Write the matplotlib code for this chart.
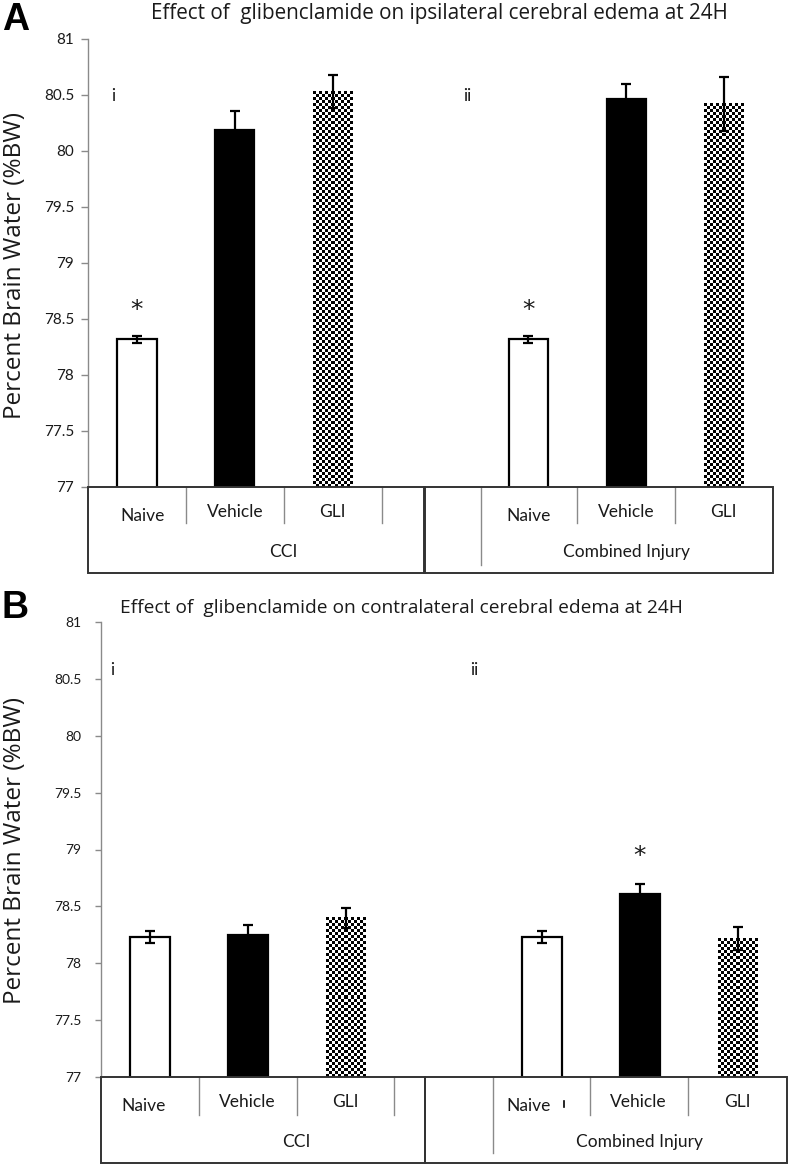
import numpy as np
import matplotlib.pyplot as plt
from matplotlib.patches import Rectangle

# ---- data (percent brain water, mean and error) ----
groups = ["CCI", "Combined Injury"]
treatments = ["Naive", "Vehicle", "GLI"]
y_ticks = [77, 77.5, 78, 78.5, 79, 79.5, 80, 80.5, 81]
y_tick_labels = ["77", "77.5", "78", "78.5", "79", "79.5", "80", "80.5", "81"]

ipsi_cci = [78.32, 80.19, 80.53]
ipsi_cci_err = [0.03, 0.17, 0.15]
ipsi_comb = [78.32, 80.46, 80.42]
ipsi_comb_err = [0.03, 0.14, 0.24]

contra_cci = [78.23, 78.25, 78.40]
contra_cci_err = [0.05, 0.09, 0.09]
contra_comb = [78.23, 78.61, 78.22]
contra_comb_err = [0.05, 0.09, 0.10]

# asterisks: (slot, y)
ipsi_stars = [(0, 78.58), (4, 78.58)]
contra_stars = [(5, 78.94)]

title_a = "Effect of  glibenclamide on ipsilateral cerebral edema at 24H"
title_b = "Effect of  glibenclamide on contralateral cerebral edema at 24H"

W, H = 792, 1167
TXT = "#1a1a1a"
GRAY = "#8a8a8a"
TICKFONT = "Lato"
TITLEFONT = "Open Sans"

fig = plt.figure(figsize=(W / 100, H / 100), dpi=100)


def px_axes(l, t, r, b):
    return fig.add_axes([l / W, 1 - b / H, (r - l) / W, (b - t) / H])


def checker(ax, bar, sq=3.0):
    """Fill a bar with a black/white checkerboard (Excel pattern fill)."""
    x0 = bar.get_x()
    x1 = x0 + bar.get_width()
    y1 = bar.get_y() + bar.get_height()
    y0 = ax.get_ylim()[0]
    p0 = ax.transData.transform((x0, y0))
    p1 = ax.transData.transform((x1, y1))
    nc = max(2, int(round(abs(p1[0] - p0[0]) / sq)))
    nr = max(2, int(round(abs(p1[1] - p0[1]) / sq)))
    board = (np.add.outer(np.arange(nr), np.arange(nc)) % 2).astype(float)
    ax.imshow(board, cmap="gray", extent=(x0, x1, y0, y1), aspect="auto",
              interpolation="nearest", zorder=2, origin="upper")


def panel(ax, cci, cci_err, comb, comb_err, stars, tab):
    ax.set_xlim(-0.5, 6.5)
    ax.set_ylim(77, 81)
    slots = [0, 1, 2, 4, 5, 6]
    vals = cci + comb
    errs = cci_err + comb_err
    face = ["white", "black", "white"] * 2
    bars = ax.bar(slots, vals, width=0.40, color=face, edgecolor="black",
                  linewidth=1.6, zorder=2)
    for i in (2, 5):
        bars[i].set_linewidth(0)
        checker(ax, bars[i])
    ax.set_xlim(-0.5, 6.5)
    ax.set_ylim(77, 81)
    ax.errorbar(slots, vals, yerr=errs, fmt="none", ecolor="black",
                elinewidth=1.6, capsize=3.5, capthick=1.6, zorder=3)
    for s, y in stars:
        ax.text(s, y, "*", ha="center", va="center", fontsize=18,
                color=TXT, family="DejaVu Sans")

    ax.set_yticks(y_ticks)
    ax.set_yticklabels(y_tick_labels, family=TICKFONT, fontsize=tab["tfs"],
                       color=TXT)
    ax.tick_params(axis="y", length=tab["tlen"], color=GRAY, width=1,
                   pad=tab["tpad"])
    ax.set_xticks([])
    for sp in ("top", "right", "bottom"):
        ax.spines[sp].set_visible(False)
    ax.spines["left"].set_color(GRAY)
    ax.spines["left"].set_linewidth(1)

    # roman numerals
    ax.text(tab["i_x"], tab["i_y"], "i", fontsize=12.5, family=TICKFONT,
            color=TXT, va="center")
    ax.text(tab["ii_x"], tab["i_y"], "ii", fontsize=12.5, family=TICKFONT,
            color=TXT, va="center")

    # table below the plot (Excel style)
    tr = ax.get_xaxis_transform()
    hpx = ax.bbox.height

    def yd(dy):
        return -dy / hpx

    row1, total, long_b = tab["row1"], tab["total"], tab["long"]
    for (xa, xb) in tab["boxes"]:
        ax.add_patch(Rectangle((xa, yd(total)), xb - xa, total / hpx,
                               transform=tr, fill=False, edgecolor="#333333",
                               linewidth=1.4, clip_on=False, zorder=4))
    for xd in tab["dividers"]:
        ax.plot([xd, xd], [0, yd(row1)], transform=tr, color=GRAY, lw=1,
                clip_on=False)
    ax.plot([tab["long_x"]] * 2, [0, yd(long_b)], transform=tr, color=GRAY,
            lw=1, clip_on=False)
    for k, name in enumerate(treatments):
        for g in range(2):
            x = tab["lab_x"][g][k]
            dy = 29 if name == "Naive" else 25
            ax.text(x, yd(dy), name, transform=tr, ha="center", va="center",
                    fontsize=12.5, family=TICKFONT, color=TXT)
    for g, name in enumerate(groups):
        ax.text(tab["grp_x"][g], yd(65), name, transform=tr, ha="center",
                va="center", fontsize=12.5, family=TICKFONT, color=TXT)
    if tab.get("stray"):
        xs = tab["stray"]
        ax.plot([xs, xs], [yd(24), yd(30)], transform=tr, color="black",
                lw=1.2, clip_on=False)


ax_a = px_axes(88, 39, 773, 487)
panel(ax_a, ipsi_cci, ipsi_cci_err, ipsi_comb, ipsi_comb_err, ipsi_stars, dict(
    tfs=11, tlen=5, tpad=5, i_x=-0.26, ii_x=3.33, i_y=80.49,
    row1=36, total=86, long=78, long_x=3.52,
    boxes=[(-0.5, 2.94), (2.93, 6.5)],
    dividers=[0.5, 1.5, 2.5, 4.5, 5.5],
    lab_x=[[0.06, 1.0, 2.0], [4.0, 5.0, 5.99]],
    grp_x=[1.5, 5.0]))

ax_b = px_axes(101, 622, 787, 1077)
panel(ax_b, contra_cci, contra_cci_err, contra_comb, contra_comb_err,
      contra_stars, dict(
          tfs=10, tlen=4, tpad=10, i_x=-0.41, ii_x=3.27, i_y=80.58,
          row1=38, total=86, long=76, long_x=3.5,
          boxes=[(-0.5, 2.81), (2.81, 6.5)],
          dividers=[0.5, 1.5, 2.49, 4.49, 5.49],
          lab_x=[[-0.07, 0.99, 1.99], [3.86, 4.98, 5.99]],
          grp_x=[1.49, 5.0], stray=4.22))

# panel letters, titles, y labels
fig.text(2 / W, 1 - 20 / H, "A", fontsize=27, fontweight="bold",
         family="Liberation Sans", va="center", ha="left")
fig.text(2 / W, 1 - 608 / H, "B", fontsize=27, fontweight="bold",
         family="Liberation Sans", va="center", ha="left")
fig.text(151 / W, 1 - 14 / H, title_a, fontsize=14.9, family=TITLEFONT,
         color=TXT, va="center", ha="left")
fig.text(120 / W, 1 - 608 / H, title_b, fontsize=13.8, family=TITLEFONT,
         color=TXT, va="center", ha="left")
for yc in (265, 850):
    fig.text(15 / W, 1 - yc / H, "Percent Brain Water (%BW)", rotation=90,
             fontsize=17.5, family=TITLEFONT, color=TXT, va="center",
             ha="center")

fig.savefig("out.png", dpi=100)
